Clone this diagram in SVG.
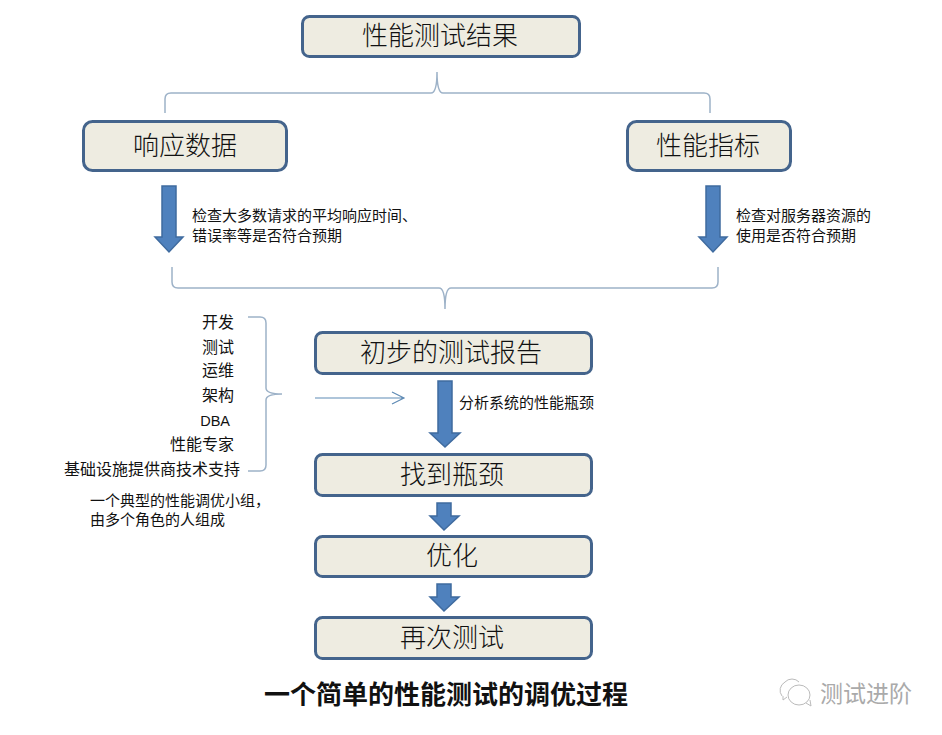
<svg xmlns="http://www.w3.org/2000/svg" width="942" height="735" viewBox="0 0 942 735">
<style>
text{font-family:"Noto Sans CJK SC","Liberation Sans",sans-serif;fill:#111}
.b{fill:#eeece1;stroke:#44648c;stroke-width:3}
.t{font-size:26px;text-anchor:middle;font-weight:300}
.s{font-size:15px}
.r{font-size:16px;text-anchor:end}
.br{fill:none;stroke:#9db2c8;stroke-width:1.5}
.ar{fill:#4f81bd;stroke:#3f6b9f;stroke-width:1.5}
</style>
<rect width="942" height="735" fill="#fff"/>
<g id="connectors">
<path class="br" d="M165 113V99Q165 93 171 93H431Q437 93 437 72Q437 93 443 93H704Q710 93 710 99V113"/>
<path class="br" d="M172 267V282Q172 288 178 288H439Q445 288 445 309Q445 288 451 288H712Q718 288 718 282V267"/>
<path class="br" d="M248 317H260Q266 317 266 323V388Q266 394 282 394Q266 394 266 400V465Q266 471 260 471H248"/>
<path fill="none" stroke="#5f8bb5" stroke-width="1.2" d="M315 398H404M392 392L404 398L392 404"/>
<path class="ar" d="M162 186H176V237H183L169 252L155 237H162Z"/>
<path class="ar" d="M706 186H720V237H727L713 252L699 237H706Z"/>
<path class="ar" d="M438 381H452V433H460L445 447L430 433H438Z"/>
<path class="ar" d="M437 503H451V516H459L444 530L430 516H437Z"/>
<path class="ar" d="M437 584H451V597H459L444 611L430 597H437Z"/>
</g>
<g id="n1"><rect class="b" x="302.500" y="16.500" width="277" height="40" rx="7"/><text class="t" x="440" y="45">性能测试结果</text></g>
<g id="n2"><rect class="b" x="83.500" y="121.500" width="203" height="49" rx="9"/><text class="t" x="185" y="155">响应数据</text></g>
<g id="n3"><rect class="b" x="627.500" y="121.500" width="163" height="49" rx="9"/><text class="t" x="708" y="155">性能指标</text></g>
<g id="n4"><rect class="b" x="315.500" y="332.500" width="276" height="41" rx="7"/><text class="t" x="451" y="362">初步的测试报告</text></g>
<g id="n5"><rect class="b" x="315.500" y="454.500" width="276" height="41" rx="7"/><text class="t" x="452" y="484">找到瓶颈</text></g>
<g id="n6"><rect class="b" x="315.500" y="536.500" width="276" height="40" rx="7"/><text class="t" x="452" y="565">优化</text></g>
<g id="n7"><rect class="b" x="315.500" y="617.500" width="276" height="41" rx="7"/><text class="t" x="452" y="647">再次测试</text></g>
<g id="notes">
<text class="s" x="192" y="221">检查大多数请求的平均响应时间、</text>
<text class="s" x="192" y="241">错误率等是否符合预期</text>
<text class="s" x="736" y="221">检查对服务器资源的</text>
<text class="s" x="736" y="241">使用是否符合预期</text>
<text class="s" x="459" y="408">分析系统的性能瓶颈</text>
<text class="r" x="234" y="328">开发</text>
<text class="r" x="234" y="353">测试</text>
<text class="r" x="234" y="376">运维</text>
<text class="r" x="234" y="401">架构</text>
<text class="r" x="230" y="426" style="font-family:'Liberation Sans',sans-serif;font-size:14.500px">DBA</text>
<text class="r" x="234" y="450">性能专家</text>
<text class="r" x="240" y="475">基础设施提供商技术支持</text>
<text class="s" x="90" y="506">一个典型的性能调优小组，</text>
<text class="s" x="90" y="525">由多个角色的人组成</text>
</g>
<text id="title" x="446" y="704" text-anchor="middle" font-size="26" font-weight="700">一个简单的性能测试的调优过程</text>
<g id="watermark">
<path fill="none" stroke="#bbb" stroke-width="1" d="M785 682a9 8 0 0 1 14 0M782 696a11 10 0 0 1 3-14M783 696v4l4-3"/>
<ellipse cx="799" cy="695" rx="11" ry="10" fill="#fff" stroke="#bbb"/>
<path fill="none" stroke="#bbb" d="M806 703l5 3-1-6"/>
<text x="820" y="702" font-size="23" style="fill:#aaa">测试进阶</text>
</g>
</svg>
